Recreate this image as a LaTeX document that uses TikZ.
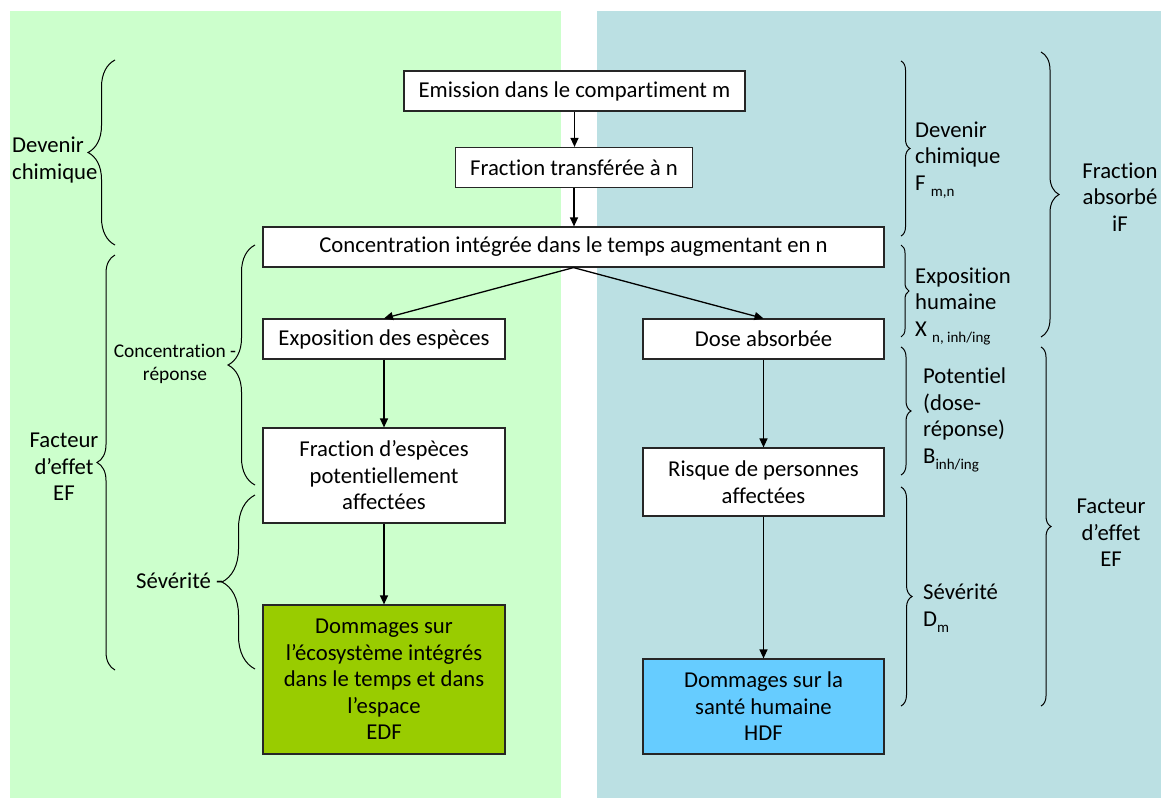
\documentclass[tikz,border=0pt]{standalone}
\usepackage{fontspec}
\setmainfont{Carlito}[Ligatures=NoCommon]
\usetikzlibrary{arrows.meta,decorations.pathreplacing}
\definecolor{greenbg}{HTML}{CCFFCC}
\definecolor{bluebg}{HTML}{BBE0E3}
\definecolor{edfgreen}{HTML}{99CC00}
\definecolor{hdfblue}{HTML}{66CCFF}
\newcommand\lsub[1]{\raisebox{-6pt}{\fontsize{15}{15}\selectfont #1}}
\tikzset{
  mainfont/.style={font=\fontsize{22.7}{26.5}\selectfont},
  smallfont/.style={font=\fontsize{19.4}{23}\selectfont},
  box/.style={draw=black!85, line width=1.2pt, fill=white, inner sep=0pt, align=center, mainfont},
  arr/.style={draw=black, line width=1.3pt, -{Triangle[length=9pt,width=8pt]}},
  brc/.style={draw=black, line width=1pt, decorate, decoration={brace, amplitude=#1}},
  lbl/.style={inner sep=0pt, mainfont},
}
\begin{document}
\begin{tikzpicture}[x=1pt,y=-1pt]
\useasboundingbox (0,0) rectangle (1161,798);
\fill[white] (0,0) rectangle (1161,798);
\fill[greenbg] (10,11) rectangle (561,798);
\fill[bluebg] (597,11) rectangle (1161,798);

% boxes
\node[box, minimum width=341pt, minimum height=40pt] (b1) at (574.5,91) {Emission dans le compartiment m};
\node[box, minimum width=237pt, minimum height=40pt] (b2) at (574,167.5) {Fraction transférée à n};
\node[box, minimum width=621pt, minimum height=40pt] (b3) at (573.5,247) {Concentration intégrée dans le temps augmentant en n};
\node[box, minimum width=242pt, minimum height=40pt] (b4) at (384,339) {Exposition des espèces};
\node[box, minimum width=242pt, minimum height=95pt] (b5) at (384,475.5) {Fraction d’espèces\\potentiellement\\affectées};
\node[box, fill=edfgreen, minimum width=242pt, minimum height=149pt] (b6) at (384,679.5) {Dommages sur\\l’écosystème intégrés\\dans le temps et dans\\l’espace\\EDF};
\node[box, minimum width=241pt, minimum height=40pt] (b7) at (763.5,339) {Dose absorbée};
\node[box, minimum width=241pt, minimum height=68pt] (b8) at (763.5,482) {Risque de personnes\\affectées};
\node[box, fill=hdfblue, minimum width=241pt, minimum height=95pt] (b9) at (763.5,706.5) {Dommages sur la\\santé humaine\\HDF};

% arrows
\draw[arr] (b1.south) -- (b1.south |- b2.north);
\draw[arr] (b2.south) -- (b2.south |- b3.north);
\draw[arr] (b3.south) -- (b4.north);
\draw[arr] (b3.south) -- (b7.north);
\draw[arr] (b4) -- (b5);
\draw[arr] (b5) -- (b6);
\draw[arr] (b7) -- (b8);
\draw[arr] (b8) -- (b9);

% left braces
\draw[brc=27pt] (115,245) -- (115,60);
\draw[brc=18pt] (115,670) -- (115,255);
\draw[brc=27pt] (255,485) -- (255,245);
\draw[brc=33pt] (255,669) -- (255,495);

% right braces
\draw[brc=9pt] (901,61) -- (901,236);
\draw[brc=8pt] (901,245) -- (901,337);
\draw[brc=10pt] (901,347) -- (901,475);
\draw[brc=11pt] (901,487) -- (901,706);
\draw[brc=18pt] (1041,52) -- (1041,337);
\draw[brc=10pt] (1041,347) -- (1041,706);

% left labels
\node[lbl, align=left, anchor=west] (l1) at (12,160) {Devenir\\chimique};
\node[lbl, align=center] (l2) at (64,467) {Facteur\\d’effet\\EF};
\node[lbl, smallfont, align=center] (l3) at (175,364) {Concentration -\\réponse};
\node[lbl, anchor=west] (l4) at (136,581) {Sévérité -};

% right labels
\node[lbl, align=left, anchor=west] (r1) at (915,160) {Devenir\\chimique\\F \lsub{m,n}};
\node[lbl, align=left, anchor=west] (r2) at (915,306) {Exposition\\humaine\\X \lsub{n, inh/ing}};
\node[lbl, align=left, anchor=west] (r3) at (923,420) {Potentiel\\(dose-\\réponse)\\B\lsub{inh/ing}};
\node[lbl, align=left, anchor=west] (r4) at (923,608) {Sévérité\\D\lsub{m}};
\node[lbl, align=center] (r5) at (1120,197) {Fraction\\absorbé\\iF};
\node[lbl, align=center] (r6) at (1111,533) {Facteur\\d’effet\\EF};
\end{tikzpicture}
\end{document}
